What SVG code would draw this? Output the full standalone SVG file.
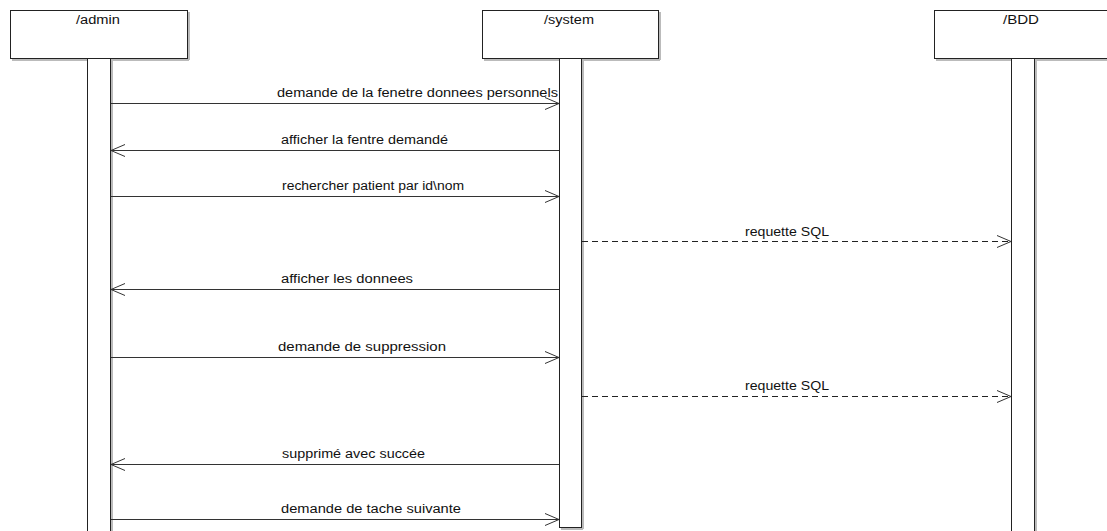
<svg xmlns="http://www.w3.org/2000/svg" width="1107" height="531" viewBox="0 0 1107 531">
<style>
.box{fill:#fff;stroke:#222;stroke-width:1}
.shadow{fill:none;stroke:#bbb;stroke-width:2}
.act{fill:#fff;stroke:#222;stroke-width:1}
.msg{stroke:#333;stroke-width:1;fill:none}
.dash{stroke:#222;stroke-width:1;fill:none;stroke-dasharray:6,4}
.lbl{font-family:"Liberation Sans",Arial,sans-serif;font-size:12px;fill:#111}
.title{font-family:"Liberation Sans",Arial,sans-serif;font-size:12px;fill:#111}
</style>
<defs>
<marker id="open" markerWidth="16" markerHeight="14" refX="15" refY="7" orient="auto" markerUnits="userSpaceOnUse">
<path d="M1,1 L15,7 L1,13" fill="none" stroke="#333" stroke-width="1"/>
</marker>
</defs>
<rect width="1107" height="531" fill="#fff"/>
<g id="admin">
<path class="shadow" d="M189,12 V60 M12,60 H189"/>
<rect class="box" x="10.5" y="10.5" width="177" height="48"/>
<text class="title" x="76" y="24" textLength="44" lengthAdjust="spacingAndGlyphs">/admin</text>
<path class="shadow" d="M112,60 V531"/>
<rect class="act" x="87.5" y="58.5" width="23" height="480"/>
</g>
<g id="system">
<path class="shadow" d="M660,12 V60 M484,60 H660"/>
<rect class="box" x="482.5" y="10.5" width="176" height="48"/>
<text class="title" x="544" y="24" textLength="50" lengthAdjust="spacingAndGlyphs">/system</text>
<path class="shadow" d="M583,60 V529 M561,529 H583"/>
<rect class="act" x="559.5" y="58.5" width="22" height="469"/>
</g>
<g id="BDD">
<path class="shadow" d="M936,60 H1107"/>
<rect class="box" x="934.5" y="10.5" width="177" height="48"/>
<text class="title" x="1003" y="24" textLength="36" lengthAdjust="spacingAndGlyphs">/BDD</text>
<path class="shadow" d="M1036,60 V531"/>
<rect class="act" x="1011.5" y="58.5" width="23" height="480"/>
</g>
<g id="connectors">
<line class="msg" x1="111" y1="103.5" x2="559" y2="103.5" marker-end="url(#open)"/>
<text class="lbl" x="277" y="97" textLength="281" lengthAdjust="spacingAndGlyphs">demande de la fenetre donnees personnels</text>
<line class="msg" x1="559" y1="150.5" x2="111" y2="150.5" marker-end="url(#open)"/>
<text class="lbl" x="281" y="144" textLength="167" lengthAdjust="spacingAndGlyphs">afficher la fentre demandé</text>
<line class="msg" x1="111" y1="196.5" x2="559" y2="196.5" marker-end="url(#open)"/>
<text class="lbl" x="282" y="190" textLength="182" lengthAdjust="spacingAndGlyphs">rechercher patient par id\nom</text>
<line class="dash" x1="582" y1="241.5" x2="1011" y2="241.5" marker-end="url(#open)"/>
<text class="lbl" x="745" y="236" textLength="84" lengthAdjust="spacingAndGlyphs">requette SQL</text>
<line class="msg" x1="559" y1="289.5" x2="111" y2="289.5" marker-end="url(#open)"/>
<text class="lbl" x="281" y="283" textLength="132" lengthAdjust="spacingAndGlyphs">afficher les donnees</text>
<line class="msg" x1="111" y1="357.5" x2="559" y2="357.5" marker-end="url(#open)"/>
<text class="lbl" x="278" y="351" textLength="168" lengthAdjust="spacingAndGlyphs">demande de suppression</text>
<line class="dash" x1="582" y1="396.5" x2="1011" y2="396.5" marker-end="url(#open)"/>
<text class="lbl" x="745" y="390" textLength="84" lengthAdjust="spacingAndGlyphs">requette SQL</text>
<line class="msg" x1="559" y1="464.5" x2="111" y2="464.5" marker-end="url(#open)"/>
<text class="lbl" x="282" y="458" textLength="143" lengthAdjust="spacingAndGlyphs">supprimé avec succée</text>
<line class="msg" x1="111" y1="519.5" x2="559" y2="519.5" marker-end="url(#open)"/>
<text class="lbl" x="281" y="513" textLength="180" lengthAdjust="spacingAndGlyphs">demande de tache suivante</text>
</g>
</svg>
